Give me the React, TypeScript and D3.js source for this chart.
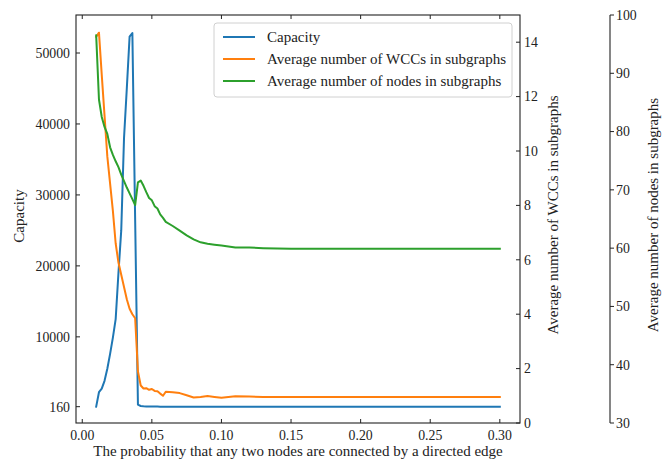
import React from 'react';
import * as d3 from 'd3';

// probability of a directed edge between two nodes
const probs = [
  0.010, 0.012, 0.014, 0.016, 0.018, 0.020, 0.022, 0.024, 0.026, 0.028,
  0.030, 0.032, 0.034, 0.036, 0.038, 0.040, 0.042, 0.044, 0.046, 0.048,
  0.050, 0.052, 0.054, 0.056, 0.058, 0.060, 0.065, 0.070, 0.075, 0.080,
  0.085, 0.090, 0.095, 0.100, 0.110, 0.120, 0.130, 0.140, 0.150, 0.160,
  0.170, 0.180, 0.190, 0.200, 0.210, 0.220, 0.230, 0.240, 0.250, 0.260,
  0.270, 0.280, 0.290, 0.300,
];

const capacity = [
  160, 2200, 2700, 3800, 5500, 7600, 9900, 12500, 19000, 25000,
  38000, 45000, 52300, 52800, 26500, 440, 260, 210, 190, 180,
  175, 170, 170, 165, 165, 165, 160, 160, 160, 160,
  160, 160, 160, 160, 160, 160, 160, 160, 160, 160,
  160, 160, 160, 160, 160, 160, 160, 160, 160, 160,
  160, 160, 160, 160,
];

const avgWccs = [
  14.2, 14.35, 12.8, 11.3, 9.8, 8.8, 7.8, 6.6, 5.9, 5.45,
  5.0, 4.55, 4.2, 4.0, 3.85, 1.9, 1.38, 1.27, 1.28, 1.22,
  1.25, 1.18, 1.17, 1.08, 1.0, 1.15, 1.13, 1.1, 1.02, 0.94,
  0.96, 0.99, 0.96, 0.93, 0.98, 0.97, 0.96, 0.96, 0.96, 0.96,
  0.96, 0.96, 0.96, 0.96, 0.96, 0.96, 0.96, 0.96, 0.96, 0.96,
  0.96, 0.96, 0.96, 0.96,
];

const avgNodes = [
  96.5, 85.5, 82.5, 80.8, 79.6, 77.3, 76.0, 74.9, 73.9, 72.6,
  71.5, 70.4, 69.4, 68.4, 67.4, 71.3, 71.6, 70.7, 69.6, 68.6,
  68.2, 67.2, 66.8, 65.8, 65.2, 64.5, 63.8, 63.0, 62.2, 61.5,
  61.0, 60.75, 60.6, 60.45, 60.1, 60.1, 60.0, 59.95, 59.9, 59.9,
  59.9, 59.9, 59.9, 59.9, 59.9, 59.9, 59.9, 59.9, 59.9, 59.9,
  59.9, 59.9, 59.9, 59.9,
];

const xTicks = [0, 0.05, 0.1, 0.15, 0.2, 0.25, 0.3];
const capTicks = [160, 10000, 20000, 30000, 40000, 50000];
const wccTicks = [0, 2, 4, 6, 8, 10, 12, 14];
const nodeTicks = [30, 40, 50, 60, 70, 80, 90, 100];

const seriesNames = [
  'Capacity',
  'Average number of WCCs in subgraphs',
  'Average number of nodes in subgraphs',
];
const colors = ['#1f77b4', '#ff7f0e', '#2ca02c'];

const W = 672, H = 463;
const left = 76, right = 520, top = 15, bottom = 423;
const axis3 = 610;
const ink = '#222';
const serif = "'Liberation Serif', 'Times New Roman', Times, serif";
const tickTxt: React.CSSProperties = { fontFamily: serif, fontSize: 13.8 };
const txt: React.CSSProperties = { fontFamily: serif, fontSize: 15 };

export default function App() {
  const x = d3.scaleLinear().domain([-0.0045, 0.3145]).range([left, right]);
  const yCap = d3.scaleLinear().domain([-2140, 55355]).range([bottom, top]);
  const yWcc = d3.scaleLinear().domain([0, 15]).range([bottom, top]);
  const yNode = d3.scaleLinear().domain([30, 100]).range([bottom, top]);

  const mk = (vals: number[], y: d3.ScaleLinear<number, number>) =>
    d3.line<number>().x((_, i) => x(probs[i])).y(v => y(v))(vals) || '';

  const paths = [mk(capacity, yCap), mk(avgWccs, yWcc), mk(avgNodes, yNode)];
  const tl = 4;
  const midY = (top + bottom) / 2;

  return (
    <svg width={W} height={H} style={{ position: 'absolute', left: 0, top: 0, background: '#fff' }} fill={ink}>
      {/* data lines */}
      {paths.map((d, i) => (
        <path key={i} d={d} fill="none" stroke={colors[i]} strokeWidth={2}
          strokeLinejoin="round" strokeLinecap="square" />
      ))}

      {/* frame */}
      <rect x={left} y={top} width={right - left} height={bottom - top} fill="none" stroke={ink} strokeWidth={1.1} />

      {/* x ticks (bottom + top, inward) */}
      {xTicks.map(t => (
        <g key={t}>
          <line x1={x(t)} x2={x(t)} y1={bottom} y2={bottom - tl} stroke={ink} />
          <line x1={x(t)} x2={x(t)} y1={top} y2={top + tl} stroke={ink} />
          <text style={tickTxt} x={x(t)} y={440} textAnchor="middle">{d3.format('.2f')(t)}</text>
        </g>
      ))}
      <text style={txt} x={(left + right) / 2} y={456} textAnchor="middle">
        The probability that any two nodes are connected by a directed edge
      </text>

      {/* left axis */}
      {capTicks.map(t => (
        <g key={t}>
          <line x1={left} x2={left + tl} y1={yCap(t)} y2={yCap(t)} stroke={ink} />
          <text style={tickTxt} x={70} y={yCap(t)} dy="0.35em" textAnchor="end">{t}</text>
        </g>
      ))}
      <text style={txt} transform={`translate(19,${midY - 3}) rotate(-90)`} dy="0.35em" textAnchor="middle">Capacity</text>

      {/* WCC axis (right spine) */}
      {wccTicks.map(t => (
        <g key={t}>
          <line x1={right} x2={right - tl} y1={yWcc(t)} y2={yWcc(t)} stroke={ink} />
          <text style={tickTxt} x={524} y={yWcc(t)} dy="0.35em">{t}</text>
        </g>
      ))}
      <text style={txt} transform={`translate(553,${midY - 4}) rotate(-90)`} dy="0.35em" textAnchor="middle">
        Average number of WCCs in subgraphs
      </text>

      {/* nodes axis (offset spine) */}
      <line x1={axis3} x2={axis3} y1={top} y2={bottom} stroke={ink} strokeWidth={1.1} />
      {nodeTicks.map(t => (
        <g key={t}>
          <line x1={axis3} x2={axis3 + tl} y1={yNode(t)} y2={yNode(t)} stroke={ink} />
          <text style={tickTxt} x={616} y={yNode(t)} dy="0.35em">{t}</text>
        </g>
      ))}
      <text style={txt} transform={`translate(653,${midY - 4}) rotate(-90)`} dy="0.35em" textAnchor="middle">
        Average number of nodes in subgraphs
      </text>

      {/* legend */}
      <g>
        <rect x={214} y={23} width={298} height={74} rx={3} fill="#fff" fillOpacity={0.8} stroke="#d0d0d0" />
        {seriesNames.map((n, i) => (
          <g key={n}>
            <line x1={223} x2={255} y1={37 + i * 22} y2={37 + i * 22} stroke={colors[i]} strokeWidth={2} />
            <text style={txt} x={267} y={37 + i * 22} dy="0.35em">{n}</text>
          </g>
        ))}
      </g>
    </svg>
  );
}
